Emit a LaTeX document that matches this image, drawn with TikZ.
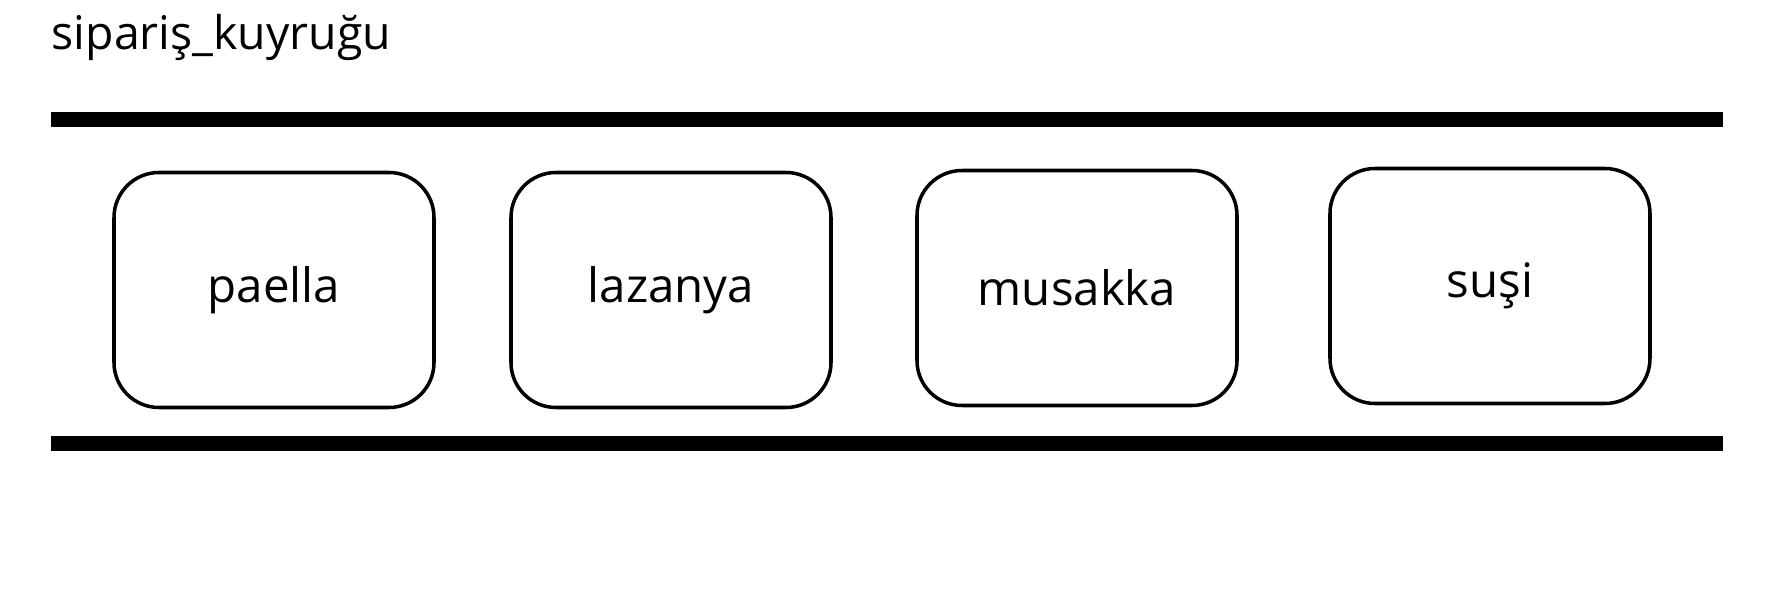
\documentclass[tikz,border=0pt]{standalone}
\usepackage{fontspec}
\setmainfont{Open Sans}
\usepackage{tikz}
\usetikzlibrary{positioning}
\tikzstyle{dish}=[shape=rectangle,draw=black,line width=1pt,rounded corners=0.45cm,minimum width=3.2cm,minimum height=2.35cm,font=\fontsize{13.5}{16}\selectfont]
\tikzstyle{rail}=[line width=4.3pt,line cap=butt]

\begin{document}
\begin{tikzpicture}
\useasboundingbox (0,0) rectangle (17.71,-5.92);
% title
\node[anchor=base west,inner sep=0pt,font=\fontsize{13.2}{16}\selectfont] (title) at (0.51,-0.50) {sipariş\_kuyruğu};
% rails
\coordinate (top_l) at (0.51,-1.195);
\coordinate (top_r) at (17.23,-1.195);
\coordinate (bot_l) at (0.51,-4.435);
\coordinate (bot_r) at (17.23,-4.435);
\draw[rail] (top_l) -- (top_r);
\draw[rail] (bot_l) -- (bot_r);
% queue
\node[dish] (d1) at (2.74,-2.90) {paella};
\node[dish] (d2) at (6.71,-2.90) {lazanya};
\node[dish] (d3) at (10.77,-2.88) {musakka};
\node[dish] (d4) at (14.90,-2.86) {suşi};
\end{tikzpicture}
\end{document}
